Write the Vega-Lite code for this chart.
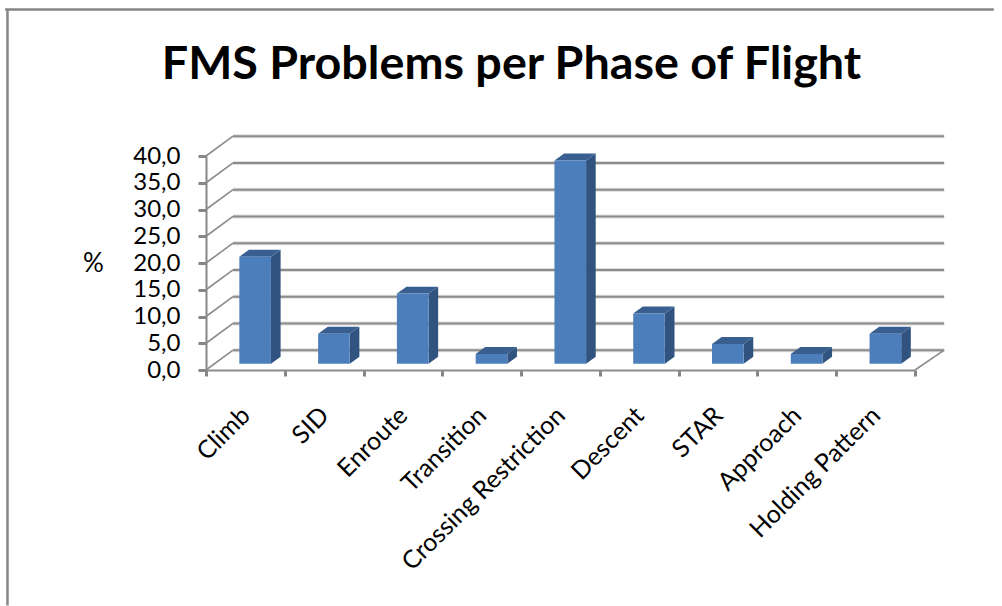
{
  "$schema": "https://vega.github.io/schema/vega-lite/v6.json",
  "autosize": "none",
  "width": 709,
  "height": 214,
  "padding": {"left": 206, "top": 156, "right": 87, "bottom": 236},
  "background": "white",
  "title": {
    "text": "FMS Problems per Phase of Flight",
    "font": "Lato",
    "fontSize": 46.7,
    "fontWeight": "bold",
    "color": "#000000",
    "anchor": "middle",
    "dx": -49,
    "offset": -81
  },
  "datasets": {
    "phases": [
      {"phase": "Climb", "value": 20.0},
      {"phase": "SID", "value": 5.6},
      {"phase": "Enroute", "value": 13.1},
      {"phase": "Transition", "value": 1.8},
      {"phase": "Crossing Restriction", "value": 38.0},
      {"phase": "Descent", "value": 9.4},
      {"phase": "STAR", "value": 3.7},
      {"phase": "Approach", "value": 1.8},
      {"phase": "Holding Pattern", "value": 5.6}
    ],
    "levels": [
      {"level": 0}, {"level": 5}, {"level": 10}, {"level": 15}, {"level": 20},
      {"level": 25}, {"level": 30}, {"level": 35}, {"level": 40}
    ]
  },
  "layer": [
    {
      "description": "Outer chart frame, top and left edges",
      "data": {"values": [{}]},
      "mark": {"type": "rule", "color": "#868686", "strokeWidth": 2.5},
      "encoding": {
        "x": {"datum": -2.52, "type": "quantitative", "scale": {"domain": [0, 9]}, "axis": null},
        "y": {"datum": 67.4, "type": "quantitative", "scale": {"domain": [0, 40], "nice": false},
          "axis": {
            "values": [0, 5, 10, 15, 20, 25, 30, 35, 40],
            "tickCount": 9,
            "labelExpr": "replace(format(datum.value, '.1f'), '.', ',')",
            "labelFont": "Lato",
            "labelFontSize": 24,
            "labelColor": "#000000",
            "labelPadding": 18,
            "labelOverlap": false,
            "labelSeparation": 0,
            "grid": false,
            "tickSize": 8,
            "tickWidth": 3,
            "tickColor": "#868686",
            "domainColor": "#868686",
            "domainWidth": 2,
            "title": "%",
            "titleFont": "Lato",
            "titleFontSize": 26,
            "titleFontWeight": "normal",
            "titleColor": "#000000",
            "titleAngle": 0,
            "titleAlign": "center",
            "titleBaseline": "middle",
            "titleX": -113,
            "titleY": 107
          }
        },
        "y2": {"datum": -44}
      }
    },
    {
      "data": {"values": [{}]},
      "mark": {"type": "rule", "color": "#868686", "strokeWidth": 2.5},
      "encoding": {
        "x": {"datum": -2.55, "type": "quantitative", "scale": {"domain": [0, 9]}, "axis": null},
        "x2": {"datum": 10},
        "y": {"datum": 67.4, "type": "quantitative"}
      }
    },
    {
      "description": "Soft halo under the back wall gridlines",
      "data": {"name": "levels"},
      "transform": [{"calculate": "datum.level + 3.7", "as": "back"}],
      "mark": {"type": "rule", "color": "#dedede", "strokeWidth": 4},
      "encoding": {
        "x": {"datum": 0.343, "type": "quantitative", "scale": {"domain": [0, 9]}, "axis": null},
        "x2": {"datum": 9.37},
        "y": {"field": "back", "type": "quantitative"}
      }
    },
    {
      "description": "Back wall gridlines",
      "data": {"name": "levels"},
      "transform": [{"calculate": "datum.level + 3.7", "as": "back"}],
      "mark": {"type": "rule", "color": "#8c8c8c", "strokeWidth": 2},
      "encoding": {
        "x": {"datum": 0.343, "type": "quantitative", "scale": {"domain": [0, 9]}, "axis": null},
        "x2": {"datum": 9.37},
        "y": {"field": "back", "type": "quantitative"}
      }
    },
    {
      "description": "Side wall diagonals",
      "data": {"name": "levels"},
      "transform": [{"calculate": "datum.level + 3.7", "as": "back"}],
      "mark": {"type": "rule", "color": "#8c8c8c", "strokeWidth": 1.6},
      "encoding": {
        "x": {"datum": 0, "type": "quantitative", "scale": {"domain": [0, 9]}, "axis": null},
        "x2": {"datum": 0.343},
        "y": {"field": "level", "type": "quantitative"},
        "y2": {"field": "back"}
      }
    },
    {
      "description": "Floor edge on the right",
      "data": {"values": [{"level": 0, "back": 3.7}]},
      "mark": {"type": "rule", "color": "#8c8c8c", "strokeWidth": 1.6},
      "encoding": {
        "x": {"datum": 9, "type": "quantitative", "scale": {"domain": [0, 9]}, "axis": null},
        "x2": {"datum": 9.37},
        "y": {"field": "level", "type": "quantitative"},
        "y2": {"field": "back"}
      }
    },
    {
      "description": "Right-hand side face of each column",
      "data": {"name": "phases"},
      "transform": [
        {"window": [{"op": "row_number", "as": "n"}]},
        {"calculate": "[0, 1]", "as": "k"},
        {"flatten": ["k"]},
        {"calculate": "datum.n - 1 + 0.825 + datum.k * 0.122", "as": "sx"},
        {"calculate": "datum.value + 1.18 + datum.k * 1.3", "as": "sTop"},
        {"calculate": "1.18 + datum.k * 1.3", "as": "sBase"}
      ],
      "mark": {"type": "area", "color": "#30547f", "orient": "vertical"},
      "encoding": {
        "x": {"field": "sx", "type": "quantitative", "scale": {"domain": [0, 9]}, "axis": null},
        "y": {"field": "sTop", "type": "quantitative"},
        "y2": {"field": "sBase"},
        "detail": {"field": "phase"}
      }
    },
    {
      "description": "Top face of each column",
      "data": {"name": "phases"},
      "transform": [
        {"window": [{"op": "row_number", "as": "n"}]},
        {"calculate": "[0, 1]", "as": "k"},
        {"flatten": ["k"]},
        {"calculate": "datum.n - 1 + 0.423 + datum.k * 0.122", "as": "tLeft"},
        {"calculate": "datum.n - 1 + 0.825 + datum.k * 0.122", "as": "tRight"},
        {"calculate": "datum.value + 1.18 + datum.k * 1.3", "as": "tY"}
      ],
      "mark": {"type": "area", "color": "#385f90", "orient": "horizontal"},
      "encoding": {
        "x": {"field": "tLeft", "type": "quantitative", "scale": {"domain": [0, 9]}, "axis": null},
        "x2": {"field": "tRight"},
        "y": {"field": "tY", "type": "quantitative"},
        "detail": {"field": "phase"}
      }
    },
    {
      "description": "Front face of each column, carrying the category axis",
      "data": {"name": "phases"},
      "mark": {
        "type": "bar",
        "color": "#4b7ebb",
        "width": 31.6,
        "xOffset": 9.75,
        "yOffset": -6.3,
        "y2Offset": -6.3
      },
      "encoding": {
        "x": {
          "field": "phase",
          "type": "nominal",
          "sort": null,
          "scale": {"paddingInner": 0, "paddingOuter": 0},
          "axis": {
            "orient": "bottom",
            "title": null,
            "tickBand": "extent",
            "tickSize": 6,
            "tickWidth": 3,
            "tickColor": "#868686",
            "domainColor": "#8c8c8c",
            "domainWidth": 2,
            "labelAngle": -45,
            "labelAlign": "right",
            "labelBaseline": "middle",
            "labelFont": "Lato",
            "labelFontSize": 25,
            "labelColor": "#000000",
            "labelPadding": 35,
            "labelOverlap": false,
            "labelLimit": 400
          }
        },
        "y": {"field": "value", "type": "quantitative"},
        "y2": {"datum": 0}
      }
    }
  ],
  "resolve": {"scale": {"x": "independent"}, "axis": {"x": "independent"}},
  "config": {"view": {"stroke": null}, "axisY": {"labelOverlap": false, "tickCount": 9}}
}
